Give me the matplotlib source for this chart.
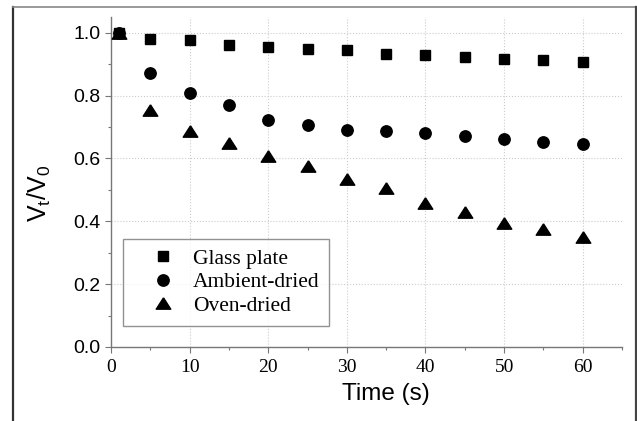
import matplotlib.pyplot as plt
from matplotlib.lines import Line2D
from matplotlib.ticker import MultipleLocator

# Normalised volume V_t/V_0 over time for the three substrates
time_s = [1, 5, 10, 15, 20, 25, 30, 35, 40, 45, 50, 55, 60]
glass_plate = [1.0, 0.979, 0.977, 0.962, 0.954, 0.949, 0.946, 0.933, 0.930, 0.922, 0.917, 0.912, 0.907]
ambient_dried = [1.0, 0.873, 0.807, 0.771, 0.721, 0.706, 0.692, 0.686, 0.681, 0.670, 0.662, 0.652, 0.645]
oven_dried = [1.0, 0.754, 0.686, 0.649, 0.608, 0.576, 0.536, 0.507, 0.457, 0.430, 0.395, 0.374, 0.350]

x_ticks = [0, 10, 20, 30, 40, 50, 60]
y_ticks = [0.0, 0.2, 0.4, 0.6, 0.8, 1.0]

# slightly flattened triangle
tri = [(0, 0.78), (-1, -0.78), (1, -0.78), (0, 0.78)]

fig = plt.figure(figsize=(6.37, 4.21), dpi=100)
ax = fig.add_axes([0.1743, 0.1758, 0.8022, 0.7838])

ax.plot(time_s, glass_plate, 's', color='black', markersize=7.5, label='Glass plate', zorder=3)
ax.plot(time_s, ambient_dried, 'o', color='black', markersize=8.2, label='Ambient-dried', zorder=3)
ax.plot(time_s, oven_dried, marker=tri, linestyle='none', color='black', markersize=10.5,
        label='Oven-dried', zorder=3)

ax.set_xlim(0, 65)
ax.set_ylim(0, 1.05)
ax.set_xticks(x_ticks)
ax.set_yticks(y_ticks)
ax.xaxis.set_minor_locator(MultipleLocator(5))
ax.yaxis.set_minor_locator(MultipleLocator(0.1))

ax.spines['top'].set_visible(False)
ax.spines['right'].set_visible(False)
for s in ('left', 'bottom'):
    ax.spines[s].set_color('#777777')
    ax.spines[s].set_linewidth(1.0)

ax.tick_params(which='both', direction='out', color='#777777', width=0.8)
ax.tick_params(which='major', length=4)
ax.tick_params(which='minor', length=2.5)
ax.tick_params(axis='x', which='major', pad=5)
ax.grid(True, which='major', linestyle=':', color='#cccccc', linewidth=0.8)

for lbl in ax.get_xticklabels():
    lbl.set_fontfamily('Liberation Serif')
    lbl.set_fontsize(14)
for lbl in ax.get_yticklabels():
    lbl.set_fontfamily('Liberation Sans')
    lbl.set_fontsize(14)

ax.set_xlabel('Time (s)', fontfamily='Liberation Sans', fontsize=17.5, labelpad=5)
ax.xaxis.label.set_x(0.538)
ax.set_ylabel(r'V$_\mathregular{t}$/V$_\mathregular{0}$', fontfamily='Liberation Sans',
              fontsize=18, labelpad=15)
ax.yaxis.label.set_y(0.467)

leg = ax.legend(loc='upper left', bbox_to_anchor=(0.0235, 0.327), borderaxespad=0,
                prop={'family': 'Liberation Serif', 'size': 15.5}, frameon=True, fancybox=False,
                edgecolor='#777777', handlelength=2.8, handletextpad=0.0, borderpad=0.45,
                labelspacing=0.16)
leg.get_frame().set_linewidth(1.0)

# outer frame around the figure
fig.add_artist(Line2D([0.0204, 0.0204], [0, 0.983], transform=fig.transFigure, color='#333333', lw=1.6))
fig.add_artist(Line2D([0.0204, 0.998], [0.983, 0.983], transform=fig.transFigure, color='#888888', lw=1.2))
fig.add_artist(Line2D([0.998, 0.998], [0, 0.983], transform=fig.transFigure, color='#444444', lw=1.6))

fig.savefig('out.png', dpi=100)
